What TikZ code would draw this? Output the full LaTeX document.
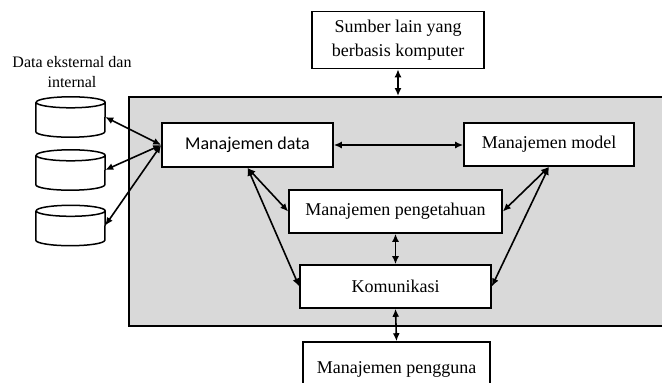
\documentclass[tikz,border=0pt]{standalone}
\usepackage{fontspec}
\setmainfont{Liberation Serif}
\newfontfamily\calibri{Carlito}
\usetikzlibrary{arrows.meta,positioning}

\begin{document}
\begin{tikzpicture}[x=1pt,y=-1pt,node distance=75pt,on grid,
    box/.style={rectangle, draw, line width=1.6pt, fill=white, inner sep=0pt, font=\fontsize{18}{24}\selectfont, align=center},
    db/.style={rectangle, minimum width=69pt, minimum height=40pt, inner sep=0pt},
    link/.style={{Latex[length=8pt,width=7pt]}-{Latex[length=8pt,width=7pt]}, line width=1.6pt}]
  \clip (0,0) rectangle (662,383);
  \node[draw, line width=1.6pt, fill=black!15, minimum width=560pt, minimum height=229pt, anchor=north west] (panel) at (128,96) {};

  \node[box, minimum width=172pt, minimum height=57pt] (q_src) at (398,40) {Sumber lain yang\\berbasis komputer};
  \node[box, minimum width=171pt, minimum height=44pt, font=\calibri\fontsize{18}{24}\selectfont] (q_data) at (247.5,145) {Manajemen data};
  \node[box, minimum width=170pt, minimum height=43pt] (q_model) at (549,144.5) {Manajemen model};
  \node[box, minimum width=213pt, minimum height=43pt] (q_know) at (395.5,211.5) {Manajemen pengetahuan};
  \node[box, minimum width=191pt, minimum height=43pt] (q_comm) [below=of q_know] {Komunikasi};
  \node[box, minimum width=187pt, minimum height=54pt] (q_user) at (396.5,369) {Manajemen pengguna};

  \node[db] (q_db1) at (70.5,117) {};
  \node[db] (q_db2) at (70.5,170) {};
  \node[db] (q_db3) at (70.5,225.5) {};
  \foreach \c in {q_db1,q_db2,q_db3}
    \draw[line width=1.5pt, fill=white]
      ([yshift=-5.5pt]\c.north west) -- ([yshift=5.5pt]\c.south west)
      arc[start angle=180, end angle=360, x radius=34.5pt, y radius=5.5pt]
      -- ([yshift=-5.5pt]\c.north east)
      arc[start angle=0, end angle=180, x radius=34.5pt, y radius=5.5pt]
      arc[start angle=180, end angle=360, x radius=34.5pt, y radius=5.5pt];
  \node[align=center, font=\fontsize{16}{20}\selectfont] (q_lbl) at (72,72) {Data eksternal dan\\internal};

  \path[link]
    (q_src.south)   edge  (q_src.south |- panel.north)
    (q_db1.east)    edge  (q_data.west)
    (q_db2.east)    edge  (q_data.west)
    (q_db3.east)    edge  (q_data.west)
    (q_data.east)   edge  (q_data.east -| q_model.west)
    (q_data.south)  edge  (q_know.west)
                    edge  (q_comm.west)
    (q_model.south) edge  (q_know.east)
                    edge  (q_comm.east)
    (q_know.south)  edge  (q_comm.north)
    (q_comm.south)  edge  (q_user.north);
\end{tikzpicture}
\end{document}
